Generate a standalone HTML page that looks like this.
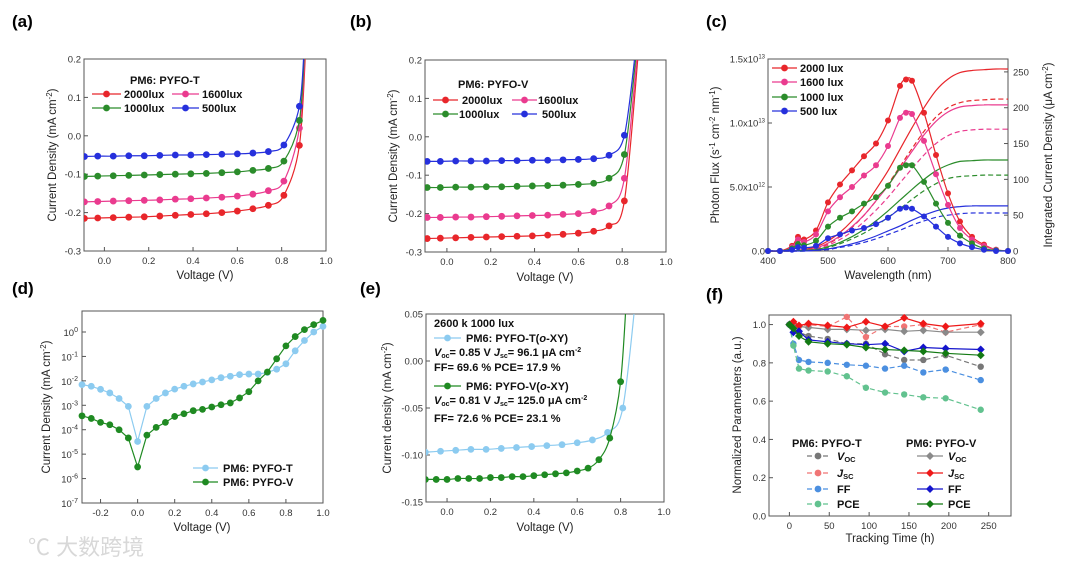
<!DOCTYPE html>
<html><head><meta charset="utf-8">
<style>
html,body{margin:0;padding:0;background:#fff;}
svg{display:block;font-family:"Liberation Sans",Arial,sans-serif;}
.tk{font-size:9.5px;fill:#333;}
.at{font-size:11.5px;fill:#222;}
.pl{font-size:17px;font-weight:bold;fill:#000;}
.lg{font-size:11px;font-weight:bold;fill:#111;}
</style></head>
<body>
<svg id="fig" width="1080" height="565" viewBox="0 0 1080 565">
<defs>
<clipPath id="ca"><rect x="84" y="59" width="242" height="192"/></clipPath>
<clipPath id="cb"><rect x="425" y="60" width="241" height="192"/></clipPath>
<clipPath id="ce"><rect x="426" y="314" width="238" height="188"/></clipPath>
</defs>
<!-- panel labels -->
<text class="pl" x="12" y="27">(a)</text>
<text class="pl" x="350" y="27">(b)</text>
<text class="pl" x="706" y="27">(c)</text>
<text class="pl" x="12" y="294">(d)</text>
<text class="pl" x="360" y="294">(e)</text>
<text class="pl" x="706" y="300">(f)</text>

<!-- axis titles -->
<text class="at" x="205" y="279" text-anchor="middle">Voltage (V)</text>
<text class="at" transform="translate(56,155) rotate(-90)" text-anchor="middle">Current Density (mA cm<tspan dy="-4" font-size="8">-2</tspan><tspan dy="4">)</tspan></text>
<text class="at" x="545" y="281" text-anchor="middle">Voltage (V)</text>
<text class="at" transform="translate(397,156) rotate(-90)" text-anchor="middle">Current Density (mA cm<tspan dy="-4" font-size="8">-2</tspan><tspan dy="4">)</tspan></text>
<text class="at" x="888" y="279" text-anchor="middle">Wavelength (nm)</text>
<text class="at" transform="translate(719,155) rotate(-90)" text-anchor="middle">Photon Flux (s<tspan dy="-4" font-size="8">-1</tspan><tspan dy="4"> cm</tspan><tspan dy="-4" font-size="8">-2</tspan><tspan dy="4"> nm</tspan><tspan dy="-4" font-size="8">-1</tspan><tspan dy="4">)</tspan></text>
<text class="at" transform="translate(1052,155) rotate(-90)" text-anchor="middle">Integrated Current Density (μA cm<tspan dy="-4" font-size="8">-2</tspan><tspan dy="4">)</tspan></text>
<text class="at" x="202" y="531" text-anchor="middle">Voltage (V)</text>
<text class="at" transform="translate(50,407) rotate(-90)" text-anchor="middle">Current Density (mA cm<tspan dy="-4" font-size="8">-2</tspan><tspan dy="4">)</tspan></text>
<text class="at" x="545" y="531" text-anchor="middle">Voltage (V)</text>
<text class="at" transform="translate(391,408) rotate(-90)" text-anchor="middle">Current density (mA cm<tspan dy="-4" font-size="8">-2</tspan><tspan dy="4">)</tspan></text>
<text class="at" x="890" y="542" text-anchor="middle">Tracking Time (h)</text>
<text class="at" transform="translate(741,415) rotate(-90)" text-anchor="middle">Normalized Paramenters (a.u.)</text>

<text x="28" y="555" font-size="22" fill="#d8d8d8" font-family="'Liberation Sans','Noto Sans CJK SC',sans-serif">℃ 大数跨境</text>
</svg>
<script>
// ---------- data ----------
// (a) PYFO-T
const aX = [-0.09,-0.03,0.04,0.11,0.18,0.25,0.32,0.39,0.46,0.53,0.6,0.67,0.74,0.81,0.88];
const aRed = [-0.215,-0.214,-0.213,-0.212,-0.211,-0.209,-0.207,-0.205,-0.203,-0.2,-0.196,-0.19,-0.181,-0.155,-0.025];
const aPink = [-0.172,-0.171,-0.17,-0.169,-0.168,-0.167,-0.165,-0.164,-0.162,-0.16,-0.157,-0.152,-0.143,-0.118,0.02];
const aGreen = [-0.106,-0.105,-0.104,-0.103,-0.102,-0.101,-0.1,-0.099,-0.098,-0.096,-0.094,-0.09,-0.085,-0.066,0.04];
const aBlue = [-0.054,-0.053,-0.053,-0.052,-0.052,-0.051,-0.05,-0.05,-0.049,-0.048,-0.047,-0.045,-0.041,-0.024,0.077];
// (b) PYFO-V
const bX = [-0.09,-0.03,0.04,0.11,0.18,0.25,0.32,0.39,0.46,0.53,0.6,0.67,0.74,0.81];
const bRed = [-0.265,-0.264,-0.263,-0.262,-0.261,-0.26,-0.259,-0.258,-0.256,-0.254,-0.251,-0.246,-0.232,-0.167];
const bPink = [-0.21,-0.21,-0.209,-0.209,-0.208,-0.207,-0.206,-0.205,-0.204,-0.202,-0.2,-0.195,-0.18,-0.108];
const bGreen = [-0.132,-0.132,-0.131,-0.131,-0.13,-0.13,-0.129,-0.128,-0.127,-0.126,-0.124,-0.121,-0.108,-0.046];
const bBlue = [-0.064,-0.064,-0.063,-0.063,-0.063,-0.062,-0.062,-0.061,-0.061,-0.06,-0.059,-0.057,-0.048,0.004];
// (c) photon flux (x1e12) and integrated current
const cX = [400,420,440,450,460,480,500,520,540,560,580,600,620,630,640,660,680,700,720,740,760,780,800];
const c2000 = [0,0,0.4,1.1,0.9,1.6,3.8,5.2,6.3,7.4,8.4,10.2,12.9,13.4,13.3,10.8,7.5,4.5,2.3,1.1,0.5,0.1,0];
const c1600 = [0,0,0.3,0.9,0.7,1.3,3.1,4.2,5.0,5.9,6.7,8.2,10.4,10.8,10.7,8.6,6.0,3.6,1.8,0.9,0.4,0.1,0];
const c1000 = [0,0,0.2,0.55,0.45,0.8,1.9,2.6,3.1,3.7,4.2,5.1,6.5,6.7,6.7,5.4,3.7,2.2,1.2,0.6,0.2,0.05,0];
const c500 = [0,0,0.1,0.3,0.25,0.4,1.0,1.3,1.6,1.8,2.1,2.6,3.3,3.4,3.3,2.7,1.9,1.1,0.6,0.3,0.1,0,0];
const cJX = [400,420,440,460,480,500,520,540,560,580,600,620,640,660,680,700,720,740,760,780,800];
const cJ2000 = [0,0,0,2,6,14,26,42,62,86,112,142,172,200,224,240,249,252,253,254,254];
const cJ2000d = [0,0,0,1,4,10,20,33,50,70,93,118,143,167,187,200,207,210,211,212,212];
const cJ1600 = [0,0,0,1,4,11,21,34,50,70,91,115,139,162,181,194,201,203,204,204,204];
const cJ1600d = [0,0,0,1,3,8,16,27,41,57,75,95,115,134,150,161,167,169,170,170,170];
const cJ1000 = [0,0,0,1,2,6,12,20,30,42,56,71,86,100,112,120,125,126,127,127,127];
const cJ1000d = [0,0,0,0,2,5,10,17,25,35,47,59,72,84,94,101,104,105,106,106,106];
const cJ500 = [0,0,0,0,1,3,6,10,15,21,28,35,43,50,56,60,62,63,63,63,63];
const cJ500d = [0,0,0,0,1,2,5,8,12,17,23,29,36,42,47,50,52,53,53,53,53];
// (d) dark J-V (log)
const dX = [-0.3,-0.25,-0.2,-0.15,-0.1,-0.05,0,0.05,0.1,0.15,0.2,0.25,0.3,0.35,0.4,0.45,0.5,0.55,0.6,0.65,0.7,0.75,0.8,0.85,0.9,0.95,1.0];
const dT = [7e-3,6e-3,4.5e-3,3.2e-3,1.9e-3,9e-4,3.3e-5,9e-4,1.9e-3,3.2e-3,4.6e-3,6e-3,7.5e-3,9e-3,1.1e-2,1.35e-2,1.55e-2,1.8e-2,1.9e-2,1.9e-2,2.2e-2,3e-2,5e-2,0.17,0.45,1.0,1.7];
const dV = [3.7e-4,2.9e-4,2e-4,1.6e-4,1e-4,4.6e-5,3e-6,6e-5,1.25e-4,2e-4,3.5e-4,4.5e-4,6e-4,6.8e-4,8.5e-4,1.05e-3,1.25e-3,2e-3,3.6e-3,1e-2,2.3e-2,8e-2,0.27,0.65,1.25,2.0,3.0];
// (e) 2600K 1000 lux
const eTX = [-0.1,-0.03,0.04,0.11,0.18,0.25,0.32,0.39,0.46,0.53,0.6,0.67,0.74,0.81];
const eT = [-0.097,-0.096,-0.095,-0.094,-0.094,-0.093,-0.092,-0.091,-0.09,-0.089,-0.087,-0.084,-0.076,-0.05];
const eVX = [-0.1,-0.05,0,0.05,0.1,0.15,0.2,0.25,0.3,0.35,0.4,0.45,0.5,0.55,0.6,0.65,0.7,0.75,0.8];
const eV = [-0.126,-0.126,-0.126,-0.125,-0.125,-0.125,-0.124,-0.124,-0.123,-0.123,-0.122,-0.121,-0.12,-0.119,-0.117,-0.114,-0.105,-0.082,-0.022];
// (f) stability
const fX = [0,5,12,24,48,72,96,120,144,168,196,240];
const fTVoc = [1.0,0.98,0.96,0.94,0.925,0.9,0.9,0.845,0.815,0.815,0.84,0.78];
const fTJsc = [1.0,1.01,0.99,1.0,0.99,1.04,0.935,0.99,0.99,1.0,0.96,1.0];
const fTFF = [1.0,0.9,0.815,0.805,0.8,0.79,0.785,0.77,0.785,0.75,0.765,0.71];
const fTPCE = [1.0,0.89,0.77,0.76,0.755,0.73,0.67,0.645,0.635,0.62,0.615,0.555];
const fVVoc = [1.0,1.0,0.99,0.985,0.975,0.975,0.97,0.975,0.965,0.97,0.96,0.96];
const fVJsc = [1.0,1.015,0.995,1.005,0.995,0.985,1.015,0.99,1.035,1.005,0.99,1.005];
const fVFF = [1.0,0.96,0.965,0.92,0.91,0.9,0.895,0.9,0.86,0.88,0.875,0.87];
const fVPCE = [1.0,0.98,0.94,0.91,0.9,0.895,0.88,0.87,0.865,0.86,0.85,0.84];
// tick labels
const tickJV = ["-0.3","-0.2","-0.1","0.0","0.1","0.2"];
const tickV = ["0.0","0.2","0.4","0.6","0.8","1.0"];
const tickWL = ["400","500","600","700","800"];
const tickFlux = ["0.0","5.0x10","1.0x10","1.5x10"];
const tickFluxExp = ["","12","13","13"];
const tickJint = ["0","50","100","150","200","250"];
const tickVd = ["-0.2","0.0","0.2","0.4","0.6","0.8","1.0"];
const tickE = ["-0.15","-0.10","-0.05","0.00","0.05"];
const tickF = ["0.0","0.2","0.4","0.6","0.8","1.0"];
const tickT = ["0","50","100","150","200","250"];

// ---------- helpers ----------
const NS = "http://www.w3.org/2000/svg";
const svg = document.getElementById("fig");
function mk(tag, attrs, parent) {
  const e = document.createElementNS(NS, tag);
  for (const k in attrs) e.setAttribute(k, attrs[k]);
  (parent || svg).appendChild(e);
  return e;
}
function lin(a, b, c, d) { return v => c + (v - a) * (d - c) / (b - a); }
function smooth(p) {
  let s = "M" + p[0][0].toFixed(1) + "," + p[0][1].toFixed(1);
  for (let i = 0; i < p.length - 1; i++) {
    const p0 = p[i - 1] || p[i], p1 = p[i], p2 = p[i + 1], p3 = p[i + 2] || p2;
    const c1x = p1[0] + (p2[0] - p0[0]) / 6, c1y = p1[1] + (p2[1] - p0[1]) / 6;
    const c2x = p2[0] - (p3[0] - p1[0]) / 6, c2y = p2[1] - (p3[1] - p1[1]) / 6;
    s += "C" + c1x.toFixed(1) + "," + c1y.toFixed(1) + " " + c2x.toFixed(1) + "," + c2y.toFixed(1) + " " + p2[0].toFixed(1) + "," + p2[1].toFixed(1);
  }
  return s;
}
function box(x0, y0, x1, y1, name) {
  const r = mk("rect", {x: x0, y: y0, width: x1 - x0, height: y1 - y0, fill: "none", stroke: "#555", "stroke-width": 1});
  
  
}
function xTicks(vals, labels, sx, y1, name) {
  vals.forEach((v, i) => {
    const x = sx(v);
    mk("line", {x1: x, x2: x, y1: y1, y2: y1 - 4, stroke: "#555"});
    const t = mk("text", {x: x, y: y1 + 13, "text-anchor": "middle", class: "tk"});
    t.textContent = labels[i];
    
    
  });
}
function yTicks(vals, labels, sy, x0, name, right) {
  vals.forEach((v, i) => {
    const y = sy(v);
    mk("line", {x1: x0, x2: right ? x0 - 4 : x0 + 4, y1: y, y2: y, stroke: "#555"});
    const t = mk("text", {x: right ? x0 + 5 : x0 - 3, y: y + 3.5, "text-anchor": right ? "start" : "end", class: "tk"});
    t.textContent = labels[i];
    
    
  });
}
function series(xs, ys, sx, sy, color, opt) {
  opt = opt || {};
  const pts = xs.map((x, i) => [sx(x), sy(ys[i])]);
  const g = mk("g", opt.clip ? {"clip-path": "url(#" + opt.clip + ")"} : {});
  
  
  const lp = opt.extra ? pts.concat([[sx(opt.extra[0]), sy(opt.extra[1])]]) : pts;
  mk("path", {d: opt.poly ? "M" + lp.map(p => p[0].toFixed(1) + "," + p[1].toFixed(1)).join("L") : smooth(lp), fill: "none", stroke: opt.lc || color, "stroke-width": opt.w || 1.2, "stroke-dasharray": opt.dash || "none"}, g);
  if (!opt.nomark) pts.forEach(p => {
    if (opt.diamond) mk("path", {d: `M${p[0]},${p[1]-4}L${p[0]+4},${p[1]}L${p[0]},${p[1]+4}L${p[0]-4},${p[1]}Z`, fill: color}, g);
    else mk("circle", {cx: p[0], cy: p[1], r: opt.r || 3.4, fill: color, stroke: opt.mstroke || "none", "stroke-width": 0.6}, g);
  });
}
function legendEntry(x1, x2, y, color, label, name, opt) {
  opt = opt || {};
  const g = mk("g", {});
  
  
  mk("line", {x1: x1, x2: x2, y1: y, y2: y, stroke: color, "stroke-width": 1.3, "stroke-dasharray": opt.dash || "none"}, g);
  const xm = (x1 + x2) / 2;
  if (opt.diamond) mk("path", {d: `M${xm},${y-4}L${xm+4},${y}L${xm},${y+4}L${xm-4},${y}Z`, fill: color}, g);
  else mk("circle", {cx: xm, cy: y, r: 3.4, fill: color}, g);
  const t = mk("text", {x: x2 + (opt.gap || 3), y: y + 4, class: "lg"}, g);
  t.innerHTML = label;
}
function txt(x, y, html, name, size) {
  const t = mk("text", {x: x, y: y, class: "lg", "font-size": size || 11});
  t.innerHTML = html;
  
  
}
const RED = "#e8262b", PINK = "#ea3b8f", GRN = "#2b8c2b", BLU = "#2630dc";

// ---------- panel a ----------
(function () {
  const sx = lin(-0.092, 1.0, 84, 326), sy = lin(-0.3, 0.2, 251, 59);
  box(84, 59, 326, 251, "plot-area-a");
  xTicks([0, 0.2, 0.4, 0.6, 0.8, 1.0], tickV, sx, 251, "x-tick-a");
  yTicks([-0.3, -0.2, -0.1, 0, 0.1, 0.2], tickJV, sy, 84, "y-tick-a");
  series(aX, aRed, sx, sy, RED, {clip: "ca", extra: [0.91, 0.25], name: "series-a-2000lux"});
  series(aX, aPink, sx, sy, PINK, {clip: "ca", extra: [0.908, 0.25], name: "series-a-1600lux"});
  series(aX, aGreen, sx, sy, GRN, {clip: "ca", extra: [0.905, 0.25], name: "series-a-1000lux"});
  series(aX, aBlue, sx, sy, BLU, {clip: "ca", extra: [0.903, 0.25], name: "series-a-500lux"});
  txt(130, 84, "PM6: PYFO-T", "legend-title-a");
  legendEntry(92, 121, 94, RED, "2000lux", "legend-a-2000lux");
  legendEntry(172, 199, 94, PINK, "1600lux", "legend-a-1600lux");
  legendEntry(92, 121, 108, GRN, "1000lux", "legend-a-1000lux");
  legendEntry(172, 199, 108, BLU, "500lux", "legend-a-500lux");
})();

// ---------- panel b ----------
(function () {
  const sx = lin(-0.1, 1.0, 425, 666), sy = lin(-0.3, 0.2, 252, 60);
  box(425, 60, 666, 252, "plot-area-b");
  xTicks([0, 0.2, 0.4, 0.6, 0.8, 1.0], tickV, sx, 252, "x-tick-b");
  yTicks([-0.3, -0.2, -0.1, 0, 0.1, 0.2], tickJV, sy, 425, "y-tick-b");
  series(bX, bRed, sx, sy, RED, {clip: "cb", extra: [0.878, 0.25], name: "series-b-2000lux"});
  series(bX, bPink, sx, sy, PINK, {clip: "cb", extra: [0.874, 0.25], name: "series-b-1600lux"});
  series(bX, bGreen, sx, sy, GRN, {clip: "cb", extra: [0.87, 0.25], name: "series-b-1000lux"});
  series(bX, bBlue, sx, sy, BLU, {clip: "cb", extra: [0.866, 0.25], name: "series-b-500lux"});
  txt(458, 88, "PM6: PYFO-V", "legend-title-b");
  legendEntry(433, 458, 100, RED, "2000lux", "legend-b-2000lux", {gap: 4});
  legendEntry(512, 537, 100, PINK, "1600lux", "legend-b-1600lux", {gap: 1});
  legendEntry(433, 458, 114, GRN, "1000lux", "legend-b-1000lux", {gap: 1});
  legendEntry(512, 537, 114, BLU, "500lux", "legend-b-500lux", {gap: 5});
})();

// ---------- panel c ----------
(function () {
  const sx = lin(400, 800, 768, 1008), sy = lin(0, 15, 251, 59), sr = lin(0, 268, 251, 59);
  box(768, 59, 1008, 251, "plot-area-c");
  xTicks([400, 500, 600, 700, 800], tickWL, sx, 251, "x-tick-c");
  [0, 5, 10, 15].forEach((v, i) => {
    const y = sy(v);
    mk("line", {x1: 768, x2: 772, y1: y, y2: y, stroke: "#555"});
    const t = mk("text", {x: 765, y: y + 3.5, "text-anchor": "end", class: "tk", "font-size": 8.5});
    t.innerHTML = tickFlux[i] + (tickFluxExp[i] ? '<tspan dy="-4" font-size="6">' + tickFluxExp[i] + '</tspan>' : "");
    
    
  });
  yTicks([0, 50, 100, 150, 200, 250], tickJint, sr, 1008, "y-tick-c-right", true);
  series(cJX, cJ2000, sx, sr, RED, {nomark: true, name: "integrated-2000lux"});
  series(cJX, cJ2000d, sx, sr, RED, {nomark: true, dash: "5,3", name: "integrated-2000lux-dashed"});
  series(cJX, cJ1600, sx, sr, PINK, {nomark: true, name: "integrated-1600lux"});
  series(cJX, cJ1600d, sx, sr, PINK, {nomark: true, dash: "5,3", name: "integrated-1600lux-dashed"});
  series(cJX, cJ1000, sx, sr, GRN, {nomark: true, name: "integrated-1000lux"});
  series(cJX, cJ1000d, sx, sr, GRN, {nomark: true, dash: "5,3", name: "integrated-1000lux-dashed"});
  series(cJX, cJ500, sx, sr, BLU, {nomark: true, name: "integrated-500lux"});
  series(cJX, cJ500d, sx, sr, BLU, {nomark: true, dash: "5,3", name: "integrated-500lux-dashed"});
  series(cX, c2000, sx, sy, RED, {r: 3, name: "flux-2000lux"});
  series(cX, c1600, sx, sy, PINK, {r: 3, name: "flux-1600lux"});
  series(cX, c1000, sx, sy, GRN, {r: 3, name: "flux-1000lux"});
  series(cX, c500, sx, sy, BLU, {r: 3, name: "flux-500lux"});
  legendEntry(772, 797, 68, RED, "2000 lux", "legend-c-2000lux");
  legendEntry(772, 797, 82, PINK, "1600 lux", "legend-c-1600lux");
  legendEntry(772, 797, 97, GRN, "1000 lux", "legend-c-1000lux");
  legendEntry(772, 797, 111, BLU, "500 lux", "legend-c-500lux");
})();

// ---------- panel d ----------
(function () {
  const sx = lin(-0.3, 1.0, 82, 323), sl = lin(-7, 0.86, 503, 311), sy = v => sl(Math.log10(v));
  box(82, 311, 323, 503, "plot-area-d");
  xTicks([-0.2, 0, 0.2, 0.4, 0.6, 0.8, 1.0], tickVd, sx, 503, "x-tick-d");
  [0, -1, -2, -3, -4, -5, -6, -7].forEach(p => {
    const y = sl(p);
    mk("line", {x1: 82, x2: 86, y1: y, y2: y, stroke: "#555"});
    const t = mk("text", {x: 78, y: y + 4, "text-anchor": "end", class: "tk"});
    t.innerHTML = '10<tspan dy="-4" font-size="7">' + p + '</tspan>';
    
    
  });
  series(dX, dT, sx, sy, "#8ccbf0", {poly: true, name: "series-d-pyfo-t"});
  series(dX, dV, sx, sy, "#1f8a22", {poly: true, name: "series-d-pyfo-v"});
  legendEntry(193, 218, 468, "#8ccbf0", "PM6: PYFO-T", "legend-d-pyfo-t", {gap: 5});
  legendEntry(193, 218, 482, "#1f8a22", "PM6: PYFO-V", "legend-d-pyfo-v", {gap: 5});
})();

// ---------- panel e ----------
(function () {
  const sx = lin(-0.097, 1.0, 426, 664), sy = lin(-0.15, 0.05, 502, 314);
  box(426, 314, 664, 502, "plot-area-e");
  xTicks([0, 0.2, 0.4, 0.6, 0.8, 1.0], tickV, sx, 502, "x-tick-e");
  yTicks([-0.15, -0.1, -0.05, 0, 0.05], tickE, sy, 426, "y-tick-e");
  series(eTX, eT, sx, sy, "#8ccbf0", {clip: "ce", extra: [0.875, 0.08], name: "series-e-pyfo-t"});
  series(eVX, eV, sx, sy, "#1f8a22", {clip: "ce", extra: [0.83, 0.08], name: "series-e-pyfo-v"});
  txt(434, 327, "2600 k 1000 lux", "annotation-e-condition", 10.5);
  legendEntry(434, 461, 338, "#8ccbf0", "PM6: PYFO-T(<tspan font-style='italic'>o</tspan>-XY)", "legend-e-pyfo-t", {gap: 5});
  txt(434, 356, "<tspan font-style='italic'>V</tspan><tspan font-size='7' dy='2'>oc</tspan><tspan dy='-2'>= 0.85 V  </tspan><tspan font-style='italic'>J</tspan><tspan font-size='7' dy='2'>sc</tspan><tspan dy='-2'>= 96.1 μA cm</tspan><tspan font-size='7' dy='-4'>-2</tspan>", "annotation-e-t-voc-jsc", 10.5);
  txt(434, 371, "FF= 69.6 % PCE= 17.9 %", "annotation-e-t-ff-pce", 10.5);
  legendEntry(434, 461, 386, "#1f8a22", "PM6: PYFO-V(<tspan font-style='italic'>o</tspan>-XY)", "legend-e-pyfo-v", {gap: 5});
  txt(434, 404, "<tspan font-style='italic'>V</tspan><tspan font-size='7' dy='2'>oc</tspan><tspan dy='-2'>= 0.81 V  </tspan><tspan font-style='italic'>J</tspan><tspan font-size='7' dy='2'>sc</tspan><tspan dy='-2'>= 125.0 μA cm</tspan><tspan font-size='7' dy='-4'>-2</tspan>", "annotation-e-v-voc-jsc", 10.5);
  txt(434, 422, "FF= 72.6 % PCE= 23.1 %", "annotation-e-v-ff-pce", 10.5);
})();

// ---------- panel f ----------
(function () {
  const sx = lin(-25.6, 278, 769, 1011), sy = lin(0, 1.05, 516, 315);
  box(769, 315, 1011, 516, "plot-area-f");
  xTicks([0, 50, 100, 150, 200, 250], tickT, sx, 516, "x-tick-f");
  yTicks([0, 0.2, 0.4, 0.6, 0.8, 1.0], tickF, sy, 769, "y-tick-f");
  const cs = {tv: "#777", tj: "#f07575", tf: "#4b8fe0", tp: "#62c28f", vv: "#8a8a8a", vj: "#ee1818", vf: "#1414cc", vp: "#137a13"};
  series(fX, fTVoc, sx, sy, cs.tv, {poly: true, dash: "5,3", r: 3.2, name: "series-f-t-voc"});
  series(fX, fTJsc, sx, sy, cs.tj, {poly: true, dash: "5,3", r: 3.2, name: "series-f-t-jsc"});
  series(fX, fTFF, sx, sy, cs.tf, {poly: true, dash: "5,3", r: 3.2, name: "series-f-t-ff"});
  series(fX, fTPCE, sx, sy, cs.tp, {poly: true, dash: "5,3", r: 3.2, name: "series-f-t-pce"});
  series(fX, fVVoc, sx, sy, cs.vv, {poly: true, diamond: true, name: "series-f-v-voc"});
  series(fX, fVJsc, sx, sy, cs.vj, {poly: true, diamond: true, name: "series-f-v-jsc"});
  series(fX, fVFF, sx, sy, cs.vf, {poly: true, diamond: true, name: "series-f-v-ff"});
  series(fX, fVPCE, sx, sy, cs.vp, {poly: true, diamond: true, name: "series-f-v-pce"});
  txt(792, 447, "PM6: PYFO-T", "legend-title-f-t");
  txt(906, 447, "PM6: PYFO-V", "legend-title-f-v");
  const sub = (a, b) => "<tspan font-style='italic'>" + a + "</tspan><tspan font-size='7.5' dy='2'>" + b + "</tspan>";
  legendEntry(807, 829, 456, cs.tv, sub("V", "OC"), "legend-f-t-voc", {dash: "5,3", gap: 8});
  legendEntry(807, 829, 473, cs.tj, sub("J", "SC"), "legend-f-t-jsc", {dash: "5,3", gap: 8});
  legendEntry(807, 829, 489, cs.tf, "FF", "legend-f-t-ff", {dash: "5,3", gap: 8});
  legendEntry(807, 829, 504, cs.tp, "PCE", "legend-f-t-pce", {dash: "5,3", gap: 8});
  legendEntry(917, 943, 456, cs.vv, sub("V", "OC"), "legend-f-v-voc", {diamond: true, gap: 5});
  legendEntry(917, 943, 473, cs.vj, sub("J", "SC"), "legend-f-v-jsc", {diamond: true, gap: 5});
  legendEntry(917, 943, 489, cs.vf, "FF", "legend-f-v-ff", {diamond: true, gap: 5});
  legendEntry(917, 943, 504, cs.vp, "PCE", "legend-f-v-pce", {diamond: true, gap: 5});
})();
</script>
</body></html>
